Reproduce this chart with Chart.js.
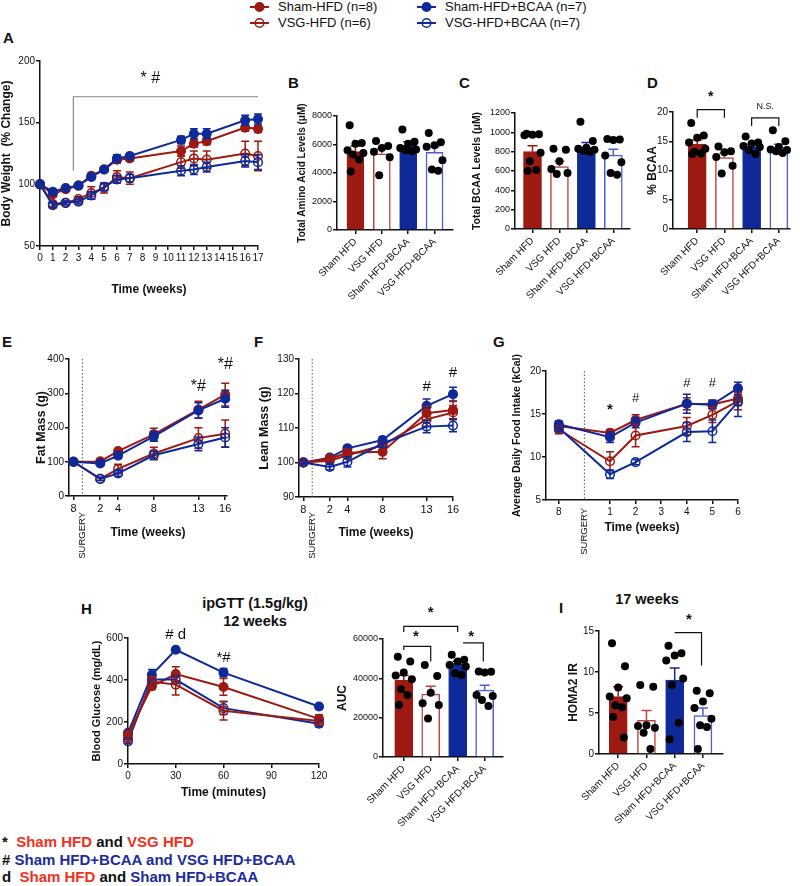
<!DOCTYPE html>
<html>
<head>
<meta charset="utf-8">
<script src="https://cdn.jsdelivr.net/npm/chart.js@4.4.1/dist/chart.umd.min.js"></script>
<style>
  body { margin: 0; background: #fff; font-family: 'Liberation Sans', Arial, sans-serif; color: #111; }
  #page { position: relative; width: 800px; height: 886px; overflow: hidden; background: #fff; }
  canvas { position: absolute; }
  .tag { position: absolute; font-weight: bold; font-size: 15px; line-height: 18px; }
  .ttl { position: absolute; font-weight: bold; font-size: 14.5px; line-height: 18px; text-align: center; width: 160px; }
  .leg { position: absolute; font-size: 13px; line-height: 16px; white-space: nowrap; display: flex; align-items: center; }
  .leg svg { margin-right: 9px; }
  .key { position: absolute; left: 2px; font-weight: bold; font-size: 15px; line-height: 18px; white-space: nowrap; }
  .r { color: #f2301c; }
  .b { color: #1b2c9e; }
</style>
</head>
<body>
<div id="page">
  <div class="leg" style="left:250px;top:-1px"><svg width="19" height="14"><line x1="0" y1="7" x2="19" y2="7" stroke="#9c1a12" stroke-width="2"/><circle cx="9.5" cy="7" r="4.3" fill="#9c1a12" stroke="#9c1a12" stroke-width="1.5"/></svg>Sham-HFD (n=8)</div>
  <div class="leg" style="left:250px;top:15px"><svg width="19" height="14"><line x1="0" y1="7" x2="19" y2="7" stroke="#9c1a12" stroke-width="2"/><circle cx="9.5" cy="7" r="4.3" fill="none" stroke="#9c1a12" stroke-width="1.5"/></svg>VSG-HFD (n=6)</div>
  <div class="leg" style="left:417px;top:-1px"><svg width="19" height="14"><line x1="0" y1="7" x2="19" y2="7" stroke="#0f2a98" stroke-width="2"/><circle cx="9.5" cy="7" r="4.3" fill="#0f2a98" stroke="#0f2a98" stroke-width="1.5"/></svg>Sham-HFD+BCAA (n=7)</div>
  <div class="leg" style="left:417px;top:15px"><svg width="19" height="14"><line x1="0" y1="7" x2="19" y2="7" stroke="#0f2a98" stroke-width="2"/><circle cx="9.5" cy="7" r="4.3" fill="none" stroke="#0f2a98" stroke-width="1.5"/></svg>VSG-HFD+BCAA (n=7)</div>

  <div class="tag" style="left:3px;top:29px">A</div>
  <div class="tag" style="left:288px;top:74px">B</div>
  <div class="tag" style="left:459px;top:74px">C</div>
  <div class="tag" style="left:647px;top:74px">D</div>
  <div class="tag" style="left:2px;top:333px">E</div>
  <div class="tag" style="left:254px;top:333px">F</div>
  <div class="tag" style="left:493px;top:333px">G</div>
  <div class="tag" style="left:81px;top:600px">H</div>
  <div class="tag" style="left:559px;top:599px">I</div>

  <div class="ttl" style="left:175px;top:594px">ipGTT (1.5g/kg)<br>12 weeks</div>
  <div class="ttl" style="left:567px;top:590px">17 weeks</div>

  <div class="key" style="top:833px">*&nbsp; <span class="r">Sham HFD</span> and <span class="r">VSG HFD</span></div>
  <div class="key" style="top:851px"># <span class="b">Sham HFD+BCAA and VSG HFD+BCAA</span></div>
  <div class="key" style="top:868px">d&nbsp; <span class="r">Sham HFD</span> and <span class="b">Sham HFD+BCAA</span></div>
</div>

<script>
// ---- data ----
const groups = ['Sham HFD', 'VSG HFD', 'Sham HFD+BCAA', 'VSG HFD+BCAA'];

// A: body weight (% change)
const weeksA = [0, 1, 2, 3, 4, 5, 6, 7, 11, 12, 13, 16, 17];
const shamHfdA = [100, 92, 96, 99, 107, 112, 120, 121, 127, 133, 135, 146, 145];
const vsgHfdA = [100, 84, 85, 88, 93, 97, 106, 105, 118, 121, 120, 125, 123];
const shamBcaaA = [100, 94, 97, 99, 106, 112, 121, 123, 136, 141, 141, 152, 153];
const vsgBcaaA = [100, 83, 85, 86, 91, 98, 104, 105, 111, 112, 114, 119, 118];
const shamHfdAErr = [0, 2, 1.5, 1.5, 2, 2, 3, 2, 4, 3, 3, 3, 3];
const vsgHfdAErr = [0, 2, 1.5, 2, 5, 4, 5, 5, 5, 6, 7, 10, 12];
const shamBcaaAErr = [0, 2, 1.5, 1.5, 2, 2, 3, 2, 3, 4, 4, 4, 4];
const vsgBcaaAErr = [0, 2, 1.5, 2, 3, 3, 3, 3, 4, 4, 4, 5, 6];

// B: total amino acids
const aminoMean = [5500, 5350, 5950, 5450];
const aminoErr = [400, 350, 250, 400];
const aminoPts = [
  [7350, 6100, 6050, 5600, 5400, 5300, 4950, 4100],
  [6250, 5900, 5750, 5500, 5100, 3850],
  [7050, 6200, 6050, 5750, 5650, 5600, 5550],
  [6800, 6150, 5950, 5850, 4900, 4250, 4150]
];

// C: total BCAA
const bcaaMean = [800, 645, 840, 765];
const bcaaErr = [60, 55, 55, 60];
const bcaaPts = [
  [985, 980, 975, 970, 790, 700, 610, 600],
  [830, 820, 700, 620, 580, 570],
  [1110, 910, 840, 830, 820, 810, 800],
  [930, 925, 920, 760, 690, 580, 560]
];

// D: % BCAA
const pctMean = [14.5, 12.2, 14.1, 14.0];
const pctErr = [0.7, 0.7, 0.4, 0.5];
const pctPts = [
  [18.1, 16.0, 15.6, 14.8, 13.7, 13.2, 12.9, 12.8],
  [14.1, 13.3, 13.1, 12.3, 10.8, 9.5],
  [15.8, 14.8, 14.6, 14.2, 14.0, 13.5, 12.8],
  [16.9, 15.0, 14.0, 13.6, 13.5, 13.3, 13.0]
];

// E / F: fat and lean mass (week -1 = pre-surgery week 8)
const weeksEF = [-1, 2, 4, 8, 13, 16];
const shamHfdE = [100, 101, 131, 180, 252, 296];
const vsgHfdE = [100, 50, 79, 124, 169, 182];
const shamBcaaE = [100, 95, 118, 174, 250, 284];
const vsgBcaaE = [100, 50, 66, 119, 152, 171];
const shamHfdEErr = [6, 6, 6, 18, 25, 33];
const vsgHfdEErr = [6, 5, 14, 18, 30, 40];
const shamBcaaEErr = [6, 5, 8, 14, 22, 25];
const vsgBcaaEErr = [6, 5, 8, 12, 20, 28];

const shamHfdF = [100, 101.1, 102.8, 103.1, 114.3, 115.2];
const vsgHfdF = [100, 100.5, 102.1, 105, 112.5, 114.5];
const shamBcaaF = [100, 101.4, 104.1, 106.5, 116.4, 119.8];
const vsgBcaaF = [100, 98.7, 100.2, 105.5, 110.4, 110.7];
const shamHfdFErr = [0.5, 1, 1, 2, 2, 2.5];
const vsgHfdFErr = [0.5, 1, 1, 1.5, 2, 2];
const shamBcaaFErr = [0.5, 0.8, 0.8, 1, 2, 2];
const vsgBcaaFErr = [0.5, 0.8, 1.5, 1, 1.8, 1.8];

// G: food intake
const weeksG = [-1, 1, 2, 4, 5, 6];
const shamHfdG = [13.6, 12.8, 14.3, 16.2, 16.1, 16.8];
const vsgHfdG = [13.2, 9.5, 12.5, 13.6, 14.9, 16.5];
const shamBcaaG = [13.8, 12.3, 14.0, 16.2, 16.1, 18.0];
const vsgBcaaG = [13.4, 8.0, 9.4, 12.9, 13.0, 16.4];
const shamHfdGErr = [0.5, 0.4, 0.6, 0.7, 0.5, 0.8];
const vsgHfdGErr = [0.5, 1.1, 1.3, 1.0, 0.9, 1.0];
const shamBcaaGErr = [0.4, 0.6, 0.6, 1.1, 0.5, 0.7];
const vsgBcaaGErr = [0.5, 0.5, 0.3, 1.1, 1.3, 1.7];

// H: ipGTT
const minsH = [0, 15, 30, 60, 120];
const shamHfdH = [140, 370, 428, 367, 215];
const vsgHfdH = [122, 392, 378, 254, 205];
const shamBcaaH = [148, 425, 544, 435, 274];
const vsgBcaaH = [108, 402, 402, 266, 192];
const shamHfdHErr = [10, 15, 35, 40, 20];
const vsgHfdHErr = [12, 25, 50, 45, 20];
const shamBcaaHErr = [8, 25, 8, 20, 8];
const vsgBcaaHErr = [10, 30, 18, 30, 15];

// H right: AUC
const aucMean = [39000, 32000, 47500, 34000];
const aucErr = [2500, 4000, 1200, 2500];
const aucPts = [
  [51000, 48500, 43000, 41500, 39500, 34500, 31500, 26500],
  [46800, 41200, 32700, 27300, 26400, 19600],
  [52000, 49400, 48500, 46800, 46000, 42600, 41700],
  [43500, 43300, 43000, 31500, 31000, 29000, 25900]
];

// I: HOMA2 IR
const homaMean = [7.0, 4.1, 9.0, 4.7];
const homaErr = [1.2, 1.2, 1.5, 0.9];
const homaPts = [
  [13.5, 10.7, 8.1, 7.0, 6.8, 5.9, 5.7, 4.5, 2.0],
  [8.4, 8.2, 3.5, 3.4, 3.2, 2.6, 0.6],
  [13.2, 12.3, 12.0, 11.4, 9.2, 8.4, 3.8, 1.8],
  [7.7, 7.4, 6.4, 5.6, 4.3, 3.5, 3.3, 0.6]
];

// ---- styles ----
const RED = '#9c1a12', BLUE = '#0f2a98', RED_L = '#b9473f', BLUE_L = '#4c5fcf', INK = '#111';
const barFill = [RED, '#ffffff', BLUE, '#ffffff'];
const barEdge = [RED, RED_L, BLUE, BLUE_L];
const JIT = [-0.22, 0.24, 0.0, -0.3, 0.3, -0.1, 0.14, -0.18, 0.2];
const FONT = "'Liberation Sans', Arial, sans-serif";

Chart.defaults.font.family = FONT;
Chart.defaults.font.size = 10;
Chart.defaults.color = INK;
Chart.defaults.animation = false;

const page = document.getElementById('page');

// error bars drawn through the y scale
function drawErr(chart, i, mode) {
  const ds = chart.data.datasets[i];
  if (!ds.errors || (ds.errMode || 'both') !== mode) return;
  const meta = chart.getDatasetMeta(i);
  const ys = chart.scales.y, ctx = chart.ctx;
  ctx.save();
  ctx.lineWidth = 1.5;
  meta.data.forEach((el, j) => {
    const e = ds.errors[j];
    if (!e) return;
    const v = ds.data[j].y;
    const top = ys.getPixelForValue(v + e);
    const bot = ys.getPixelForValue(mode === 'up' ? v : v - e);
    const c = ds.capW || 4;
    ctx.strokeStyle = Array.isArray(ds.errColor) ? ds.errColor[j] : (ds.errColor || ds.borderColor);
    ctx.beginPath();
    ctx.moveTo(el.x, top); ctx.lineTo(el.x, bot);
    ctx.moveTo(el.x - c, top); ctx.lineTo(el.x + c, top);
    if (mode === 'both') { ctx.moveTo(el.x - c, bot); ctx.lineTo(el.x + c, bot); }
    ctx.stroke();
  });
  ctx.restore();
}
const errorBars = {
  id: 'errorBars',
  beforeDatasetDraw(chart, args) { drawErr(chart, args.index, 'both'); },
  afterDatasetDraw(chart, args) { drawErr(chart, args.index, 'up'); }
};

// significance marks, brackets and the surgery line
const notes = {
  id: 'notes',
  beforeDatasetsDraw(chart, args, opts) {
    if (!opts.surgery) return;
    const { ctx, scales: { x }, chartArea } = chart;
    const px = x.getPixelForValue(0);
    ctx.save();
    ctx.strokeStyle = '#555'; ctx.lineWidth = 1; ctx.setLineDash([1.5, 2]);
    ctx.beginPath(); ctx.moveTo(px, chartArea.top); ctx.lineTo(px, chartArea.bottom); ctx.stroke();
    ctx.setLineDash([]);
    ctx.translate(px, chartArea.bottom + opts.surgery); ctx.rotate(-Math.PI / 2);
    ctx.font = '9.5px ' + FONT; ctx.fillStyle = INK; ctx.textAlign = 'right'; ctx.textBaseline = 'middle';
    ctx.fillText('SURGERY', 0, 0);
    ctx.restore();
  },
  afterDraw(chart, args, opts) {
    const { ctx, scales: { x, y } } = chart;
    (opts.items || []).forEach(it => {
      ctx.save();
      if (it.text) {
        ctx.font = (it.font || '15px') + ' ' + FONT;
        ctx.fillStyle = INK; ctx.textAlign = 'center'; ctx.textBaseline = 'middle';
        ctx.fillText(it.text, x.getPixelForValue(it.x), y.getPixelForValue(it.y));
      } else {
        ctx.strokeStyle = it.color || INK; ctx.lineWidth = 1.2;
        const x1 = x.getPixelForValue(it.x1), x2 = x.getPixelForValue(it.x2), yy = y.getPixelForValue(it.y);
        ctx.beginPath();
        ctx.moveTo(x1, y.getPixelForValue(it.y1)); ctx.lineTo(x1, yy);
        ctx.lineTo(x2, yy); ctx.lineTo(x2, y.getPixelForValue(it.y2));
        ctx.stroke();
      }
      ctx.restore();
    });
  }
};

// place a canvas so the plot area lands on [l,t]-[r,b] of the page
function mount(g, config) {
  const lhY = g.ySize * 1.2, lhX = (g.xSize || 12) * 1.2;
  const left = Math.round(g.yTitleX - lhY / 2);
  const W = g.l - left;
  const padTop = g.padTop || 15, padRight = g.padRight || 16, padBottom = g.padBottom || 4;
  const H = g.xTitleY ? g.xTitleY + lhX / 2 - g.b : 85;
  const cv = document.createElement('canvas');
  cv.width = Math.round(W + g.r - g.l + padRight);
  cv.height = Math.round(padTop + g.b - g.t + H + padBottom);
  cv.style.left = left + 'px';
  cv.style.top = (g.t - padTop) + 'px';
  page.appendChild(cv);
  const o = config.options;
  o.responsive = false;
  o.devicePixelRatio = 1;
  o.layout = { padding: { left: 0, top: padTop, right: cv.width - W - (g.r - g.l), bottom: cv.height - padTop - (g.b - g.t) - H } };
  o.scales.y.afterFit = s => { s.width = W; };
  o.scales.x.afterFit = s => { s.height = H; };
  config.plugins = [errorBars, notes];
  return new Chart(cv, config);
}

const gridOpt = { display: true, drawOnChartArea: false, drawTicks: true, tickLength: 4, color: INK, lineWidth: 1.5, offset: false };
const borderOpt = { display: true, color: INK, width: 1.5 };

function yAxis(min, max, step, title, size, tickSize) {
  return {
    type: 'linear', min, max,
    ticks: { stepSize: step, font: { size: tickSize || 10 }, color: INK, padding: 1, callback: v => String(v) },
    grid: gridOpt, border: borderOpt,
    title: { display: true, text: title, font: { size, weight: 'bold' }, padding: 0, color: INK }
  };
}
function xAxis(min, max, ticks, label, title, size, rot, tickSize) {
  return {
    type: 'linear', min, max, offset: false,
    afterBuildTicks: s => { s.ticks = ticks.map(v => ({ value: v })); },
    ticks: { autoSkip: false, minRotation: rot || 0, maxRotation: rot || 0, font: { size: tickSize || 10 }, color: INK, padding: 2, callback: label },
    grid: gridOpt, border: borderOpt,
    title: title ? { display: true, text: title, font: { size, weight: 'bold' }, padding: 0, color: INK } : { display: false }
  };
}

function lineSet(xs, ys, errs, color, filled) {
  return {
    data: xs.map((x, i) => ({ x, y: ys[i] })),
    borderColor: color, backgroundColor: filled ? color : 'rgba(0,0,0,0)',
    pointBackgroundColor: filled ? color : 'rgba(0,0,0,0)', pointBorderColor: color,
    pointRadius: 4.3, pointBorderWidth: 1.5, borderWidth: 2, tension: 0,
    errors: errs, capW: 4, clip: false
  };
}

function lineChart(g, sets, xOpt, yOpt, items, surgery) {
  return mount(g, {
    type: 'line',
    data: { datasets: sets },
    options: {
      scales: { x: xOpt, y: yOpt },
      plugins: { legend: { display: false }, tooltip: { enabled: false }, notes: { items, surgery } }
    }
  });
}

function barChart(g, means, errs, pts, yOpt, xMin, xMax, items) {
  const dots = [];
  pts.forEach((arr, i) => arr.forEach((v, k) => dots.push({ x: i + JIT[k % JIT.length], y: v })));
  return mount(g, {
    type: 'bar',
    data: {
      datasets: [
        { type: 'bar', data: means.map((m, i) => ({ x: i, y: m })), backgroundColor: barFill, borderColor: barEdge,
          borderWidth: 1.5, barThickness: g.bw || 18, errors: errs, errMode: 'up', errColor: barEdge, capW: 5, order: 1 },
        { type: 'scatter', data: dots, pointRadius: 4, backgroundColor: '#000', borderWidth: 0, order: 0, clip: false }
      ]
    },
    options: {
      scales: { x: xAxis(xMin, xMax, [0, 1, 2, 3], v => groups[v], null, 10, 45), y: yOpt },
      plugins: { legend: { display: false }, tooltip: { enabled: false }, notes: { items } }
    }
  });
}

const preLabel = v => (v === -1 ? '8' : v);

// A
lineChart({ l: 40, t: 61, r: 258, b: 246, yTitleX: 6.5, ySize: 12, xTitleY: 290, xSize: 12, padTop: 20 },
  [lineSet(weeksA, vsgBcaaA, vsgBcaaAErr, BLUE, false), lineSet(weeksA, vsgHfdA, vsgHfdAErr, RED, false),
   lineSet(weeksA, shamBcaaA, shamBcaaAErr, BLUE, true), lineSet(weeksA, shamHfdA, shamHfdAErr, RED, true)],
  xAxis(0, 17, weeksA.concat([8, 9, 10, 14, 15]).sort((a, b) => a - b), v => v, 'Time (weeks)', 12),
  yAxis(50, 200, 50, 'Body Weight  (% Change)', 12),
  [{ x1: 2.6, x2: 17, y: 171, y1: 111, y2: 171, color: '#888' }, { text: '* #', x: 8.6, y: 186, font: '16px' }]);

// B
barChart({ l: 337, t: 116, r: 453, b: 230, yTitleX: 302, ySize: 10, bw: 17, padTop: 32 }, aminoMean, aminoErr, aminoPts,
  yAxis(0, 8000, 2000, 'Total Amino Acid Levels (\u03bcM)', 10, 9), -0.7, 3.7, []);

// C
barChart({ l: 515, t: 113, r: 630, b: 229, yTitleX: 477, ySize: 10.5, padTop: 30 }, bcaaMean, bcaaErr, bcaaPts,
  yAxis(0, 1200, 200, 'Total BCAA Levels (\u03bcM)', 10.5, 9), -0.65, 3.62, []);

// D
barChart({ l: 673, t: 112, r: 790, b: 229, yTitleX: 652, ySize: 12, padTop: 30, padRight: 8 }, pctMean, pctErr, pctPts,
  yAxis(0, 20, 5, '% BCAA', 12, 10), -0.89, 3.41,
  [{ x1: 0, x2: 1, y: 20.4, y1: 19.0, y2: 19.0 }, { text: '*', x: 0.5, y: 22.6, font: 'bold 14px' },
   { x1: 2, x2: 3, y: 19.0, y1: 17.6, y2: 17.6 }, { text: 'N.S.', x: 2.5, y: 21.0, font: '9px' }]);

// E
lineChart({ l: 69, t: 359, r: 227, b: 496, yTitleX: 41, ySize: 12.5, xTitleY: 533, xSize: 12, padBottom: 70 },
  [lineSet(weeksEF, vsgBcaaE, vsgBcaaEErr, BLUE, false), lineSet(weeksEF, shamBcaaE, shamBcaaEErr, BLUE, true),
   lineSet(weeksEF, vsgHfdE, vsgHfdEErr, RED, false), lineSet(weeksEF, shamHfdE, shamHfdEErr, RED, true)],
  xAxis(-1.5, 16.2, weeksEF, preLabel, 'Time (weeks)', 12, 0, 11),
  yAxis(0, 400, 100, 'Fat Mass (g)', 12.5, 10),
  [{ text: '*#', x: 13, y: 320, font: '16px' }, { text: '*#', x: 16, y: 384, font: '16px' }], 16);

// F
lineChart({ l: 299, t: 359, r: 453, b: 497, yTitleX: 264, ySize: 12.5, xTitleY: 533, xSize: 12, padBottom: 70 },
  [lineSet(weeksEF, vsgBcaaF, vsgBcaaFErr, BLUE, false), lineSet(weeksEF, vsgHfdF, vsgHfdFErr, RED, false),
   lineSet(weeksEF, shamHfdF, shamHfdFErr, RED, true), lineSet(weeksEF, shamBcaaF, shamBcaaFErr, BLUE, true)],
  xAxis(-1.5, 16, weeksEF, preLabel, 'Time (weeks)', 12, 0, 11),
  yAxis(90, 130, 10, 'Lean Mass (g)', 12.5, 10),
  [{ text: '#', x: 13, y: 122, font: '15px' }, { text: '#', x: 16, y: 125.9, font: '15px' }], 15);

// G
lineChart({ l: 546, t: 371, r: 738, b: 500, yTitleX: 517.5, ySize: 10.5, xTitleY: 528, xSize: 12, padTop: 35, padBottom: 70 },
  [lineSet(weeksG, vsgBcaaG, vsgBcaaGErr, BLUE, false), lineSet(weeksG, vsgHfdG, vsgHfdGErr, RED, false),
   lineSet(weeksG, shamBcaaG, shamBcaaGErr, BLUE, true), lineSet(weeksG, shamHfdG, shamHfdGErr, RED, true)],
  xAxis(-1.5, 6, [-1, 1, 2, 3, 4, 5, 6], preLabel, 'Time (weeks)', 12),
  yAxis(5, 20, 5, 'Average Daily Food Intake (kCal)', 10.5, 10),
  [{ text: '*', x: 1, y: 15.5, font: 'bold 15px' }, { text: '#', x: 2, y: 16.8, font: '13px' },
   { text: '#', x: 4, y: 18.6, font: '13px' }, { text: '#', x: 5, y: 18.6, font: '13px' }], 8);

// H left
lineChart({ l: 128, t: 638, r: 319, b: 764, yTitleX: 97, ySize: 11, xTitleY: 793, xSize: 12, padTop: 25 },
  [lineSet(minsH, vsgHfdH, vsgHfdHErr, RED, false), lineSet(minsH, vsgBcaaH, vsgBcaaHErr, BLUE, false),
   lineSet(minsH, shamHfdH, shamHfdHErr, RED, true), lineSet(minsH, shamBcaaH, shamBcaaHErr, BLUE, true)],
  xAxis(0, 120, [0, 30, 60, 90, 120], v => v, 'Time (minutes)', 12),
  yAxis(0, 600, 200, 'Blood Glucose (mg/dL)', 11, 10),
  [{ text: '# d', x: 30, y: 616, font: '15px' }, { text: '*#', x: 60, y: 505, font: '15px' }]);

// H right
barChart({ l: 383, t: 639, r: 503, b: 757, yTitleX: 342.5, ySize: 12, padTop: 40 }, aucMean, aucErr, aucPts,
  yAxis(0, 60000, 20000, 'AUC', 12, 9), -0.77, 3.68,
  [{ x1: 0, x2: 2, y: 66400, y1: 63600, y2: 63600 }, { text: '*', x: 1, y: 73300, font: 'bold 15px' },
   { x1: 0, x2: 1, y: 56200, y1: 54400, y2: 48600 }, { text: '*', x: 0.45, y: 61000, font: 'bold 15px' },
   { x1: 2.2, x2: 2.95, y: 58000, y1: 58000, y2: 48600 }, { text: '*', x: 2.5, y: 61000, font: 'bold 15px' }]);

// I
barChart({ l: 599, t: 631, r: 723, b: 754, yTitleX: 573, ySize: 12, padTop: 30 }, homaMean, homaErr, homaPts,
  yAxis(0, 15, 5, 'HOMA2 IR', 12, 10), -0.68, 3.71,
  [{ x1: 2, x2: 2.95, y: 14.8, y1: 14.8, y2: 10.8 }, { text: '*', x: 2.5, y: 16.4, font: 'bold 15px' }]);
</script>
</body>
</html>
